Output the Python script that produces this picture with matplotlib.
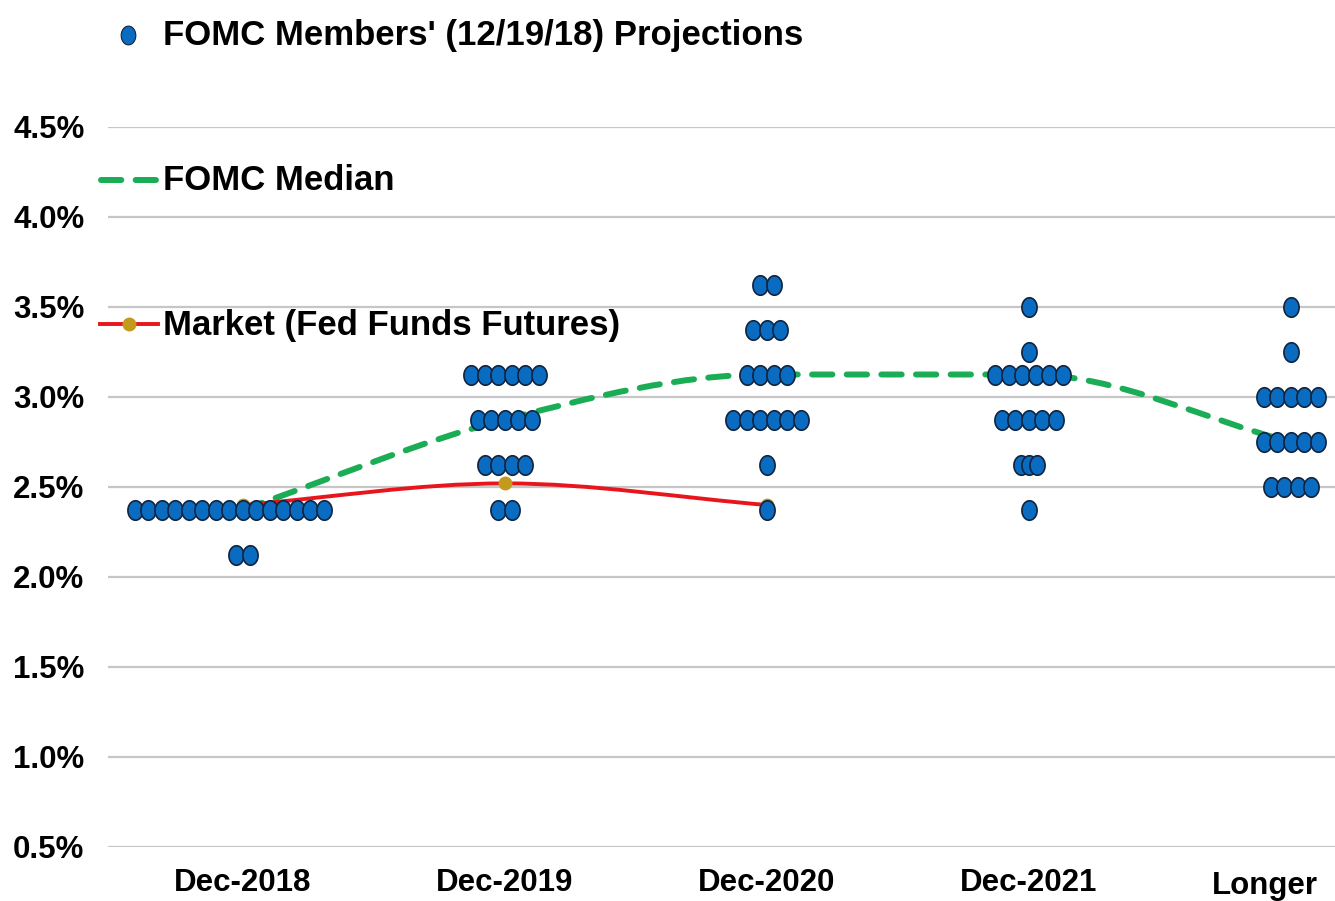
import numpy as np
import matplotlib
matplotlib.use("Agg")
import matplotlib.pyplot as plt
import matplotlib.transforms as mtransforms
from matplotlib.path import Path
from matplotlib.patches import PathPatch
from matplotlib.lines import Line2D
from matplotlib import font_manager

# ---------------- data ----------------
categories = ["Dec-2018", "Dec-2019", "Dec-2020", "Dec-2021", "Longer"]
y_ticks = [0.5, 1.0, 1.5, 2.0, 2.5, 3.0, 3.5, 4.0, 4.5]
y_tick_labels = ["0.5%", "1.0%", "1.5%", "2.0%", "2.5%", "3.0%", "3.5%", "4.0%", "4.5%"]

# FOMC participant projections: (rate, number of participants) per category
dots_2018 = [(2.375, 15), (2.125, 2)]
dots_2019 = [(3.125, 6), (2.875, 5), (2.625, 4), (2.375, 2)]
dots_2020 = [(3.625, 2), (3.375, 3), (3.125, 4), (2.875, 6), (2.625, 1), (2.375, 1)]
dots_2021 = [(3.5, 1), (3.25, 1), (3.125, 6), (2.875, 5), (2.625, 3), (2.375, 1)]
dots_longer = [(3.5, 1), (3.25, 1), (3.0, 5), (2.75, 5), (2.5, 4)]
all_dots = [dots_2018, dots_2019, dots_2020, dots_2021, dots_longer]

median_values = [2.375, 2.875, 3.125, 3.125, 2.75]
market_values = [2.40, 2.52, 2.40]

legend_top = "FOMC Members' (12/19/18) Projections"
legend_median = "FOMC Median"
legend_market = "Market (Fed Funds Futures)"

# ---------------- style ----------------
W, H = 1335, 901
names = {f.name for f in font_manager.fontManager.ttflist}
FONT = "Liberation Sans Narrow" if "Liberation Sans Narrow" in names else "Liberation Sans"
plt.rcParams["font.family"] = [FONT, "DejaVu Sans"]

BLUE = "#0a6cc0"
EDGE = "#10233f"
GOLD = "#c49a1c"
RED = "#e8161c"
GREEN = "#1bad55"
GRID = "#c6c6c6"
FS_TICK = 22.5
FS_LEG = 25

fig = plt.figure(figsize=(W / 100, H / 100), dpi=100)
ax_left, ax_right = 108 / W, 1.0
ax_bottom, ax_top = (H - 847) / H, (H - 127) / H
ax = fig.add_axes([ax_left, ax_bottom, ax_right - ax_left, ax_top - ax_bottom])
ax.set_xlim(-0.515, 4.168)
ax.set_ylim(0.5, 4.5)

for s in ax.spines.values():
    s.set_visible(False)
ax.set_yticks(y_ticks)
ax.set_yticklabels(y_tick_labels, fontsize=FS_TICK, fontweight="bold")
ax.set_xticks(range(len(categories)))
ax.set_xticklabels(categories, fontsize=FS_TICK, fontweight="bold")
ax.tick_params(axis="both", length=0)
ax.tick_params(axis="y", pad=17)
ax.tick_params(axis="x", pad=15)
ax.grid(axis="y", color=GRID, linewidth=1.6, zorder=0)
ax.set_axisbelow(True)

# shift the last category label a bit to the left, as in the reference
last = ax.get_xticklabels()[-1]
last.set_transform(last.get_transform() +
                   mtransforms.ScaledTranslation(-26 / 100, -3 / 100, fig.dpi_scale_trans))

# ellipse marker (slightly taller than wide)
t = np.linspace(0, 2 * np.pi, 60)
ell = Path(np.column_stack([0.78 * np.cos(t), np.sin(t)]), closed=True)


def smooth_path(xs, ys):
    """Monotone-style cubic smoothing through the given points (Bezier)."""
    pts = np.column_stack([xs, ys]).astype(float)
    n = len(pts)
    tang = np.zeros(n)
    for i in range(n):
        if i == 0:
            tang[i] = pts[1, 1] - pts[0, 1]
        elif i == n - 1:
            tang[i] = pts[-1, 1] - pts[-2, 1]
        else:
            d0 = pts[i, 1] - pts[i - 1, 1]
            d1 = pts[i + 1, 1] - pts[i, 1]
            tang[i] = 0.0 if d0 * d1 <= 0 else (d0 + d1) / 2
    verts = [pts[0]]
    codes = [Path.MOVETO]
    for i in range(n - 1):
        p1, p2 = pts[i], pts[i + 1]
        c1 = p1 + np.array([1 / 3, tang[i] / 3])
        c2 = p2 - np.array([1 / 3, tang[i + 1] / 3])
        verts += [c1, c2, p2]
        codes += [Path.CURVE4] * 3
    return Path(verts, codes)


# median line (smoothed, dashed)
med_patch = PathPatch(smooth_path(range(len(median_values)), median_values),
                      facecolor="none", edgecolor=GREEN, linewidth=4.3,
                      linestyle=(0, (3.4, 2.4)), capstyle="round", zorder=2)
ax.add_patch(med_patch)

# market line (smoothed) + markers
mk_patch = PathPatch(smooth_path(range(len(market_values)), market_values),
                     facecolor="none", edgecolor=RED, linewidth=2.8, zorder=2)
ax.add_patch(mk_patch)
ax.plot(range(len(market_values)), market_values, linestyle="none", marker="o",
        markersize=10, color=GOLD, markeredgewidth=0, zorder=3)

# dots
spacing = 0.0515
row_spacing = {(3, 2.625): 0.029}
row_shift = {(0, 2.375): -0.053}
for ci, rows in enumerate(all_dots):
    for rate, cnt in rows:
        sp = row_spacing.get((ci, rate), spacing)
        sh = row_shift.get((ci, rate), 0.0)
        xs = ci + sh + (np.arange(cnt) - (cnt - 1) / 2) * sp
        ax.scatter(xs, [rate] * cnt, marker=ell, s=14.0 ** 2, facecolor=BLUE,
                   edgecolor=EDGE, linewidth=1.2, zorder=4, clip_on=False)

# ---------------- legend-like annotations ----------------
def fx(px):
    return px / W


def fy(py):
    return 1 - py / H


# top: projections
fig.add_artist(Line2D([fx(128)], [fy(35)], marker=ell, markersize=13.5,
                      markerfacecolor=BLUE, markeredgecolor=EDGE,
                      markeredgewidth=0.8, linestyle="none"))
fig.text(fx(163), fy(36), legend_top, fontsize=FS_LEG, fontweight="bold",
         va="center", ha="left")

# median
fig.add_artist(Line2D([fx(101), fx(162)], [fy(180), fy(180)], color=GREEN,
                      linewidth=4.3, linestyle=(0, (3.4, 2.4)),
                      dash_capstyle="round"))
fig.text(fx(163), fy(181), legend_median, fontsize=FS_LEG, fontweight="bold",
         va="center", ha="left")

# market
fig.add_artist(Line2D([fx(100), fx(158)], [fy(324), fy(324)], color=RED,
                      linewidth=2.8))
fig.add_artist(Line2D([fx(129)], [fy(324)], marker="o", markersize=10,
                      color=GOLD, markeredgewidth=0, linestyle="none"))
fig.text(fx(163), fy(325), legend_market, fontsize=FS_LEG, fontweight="bold",
         va="center", ha="left")

fig.savefig("out.png", dpi=100)
